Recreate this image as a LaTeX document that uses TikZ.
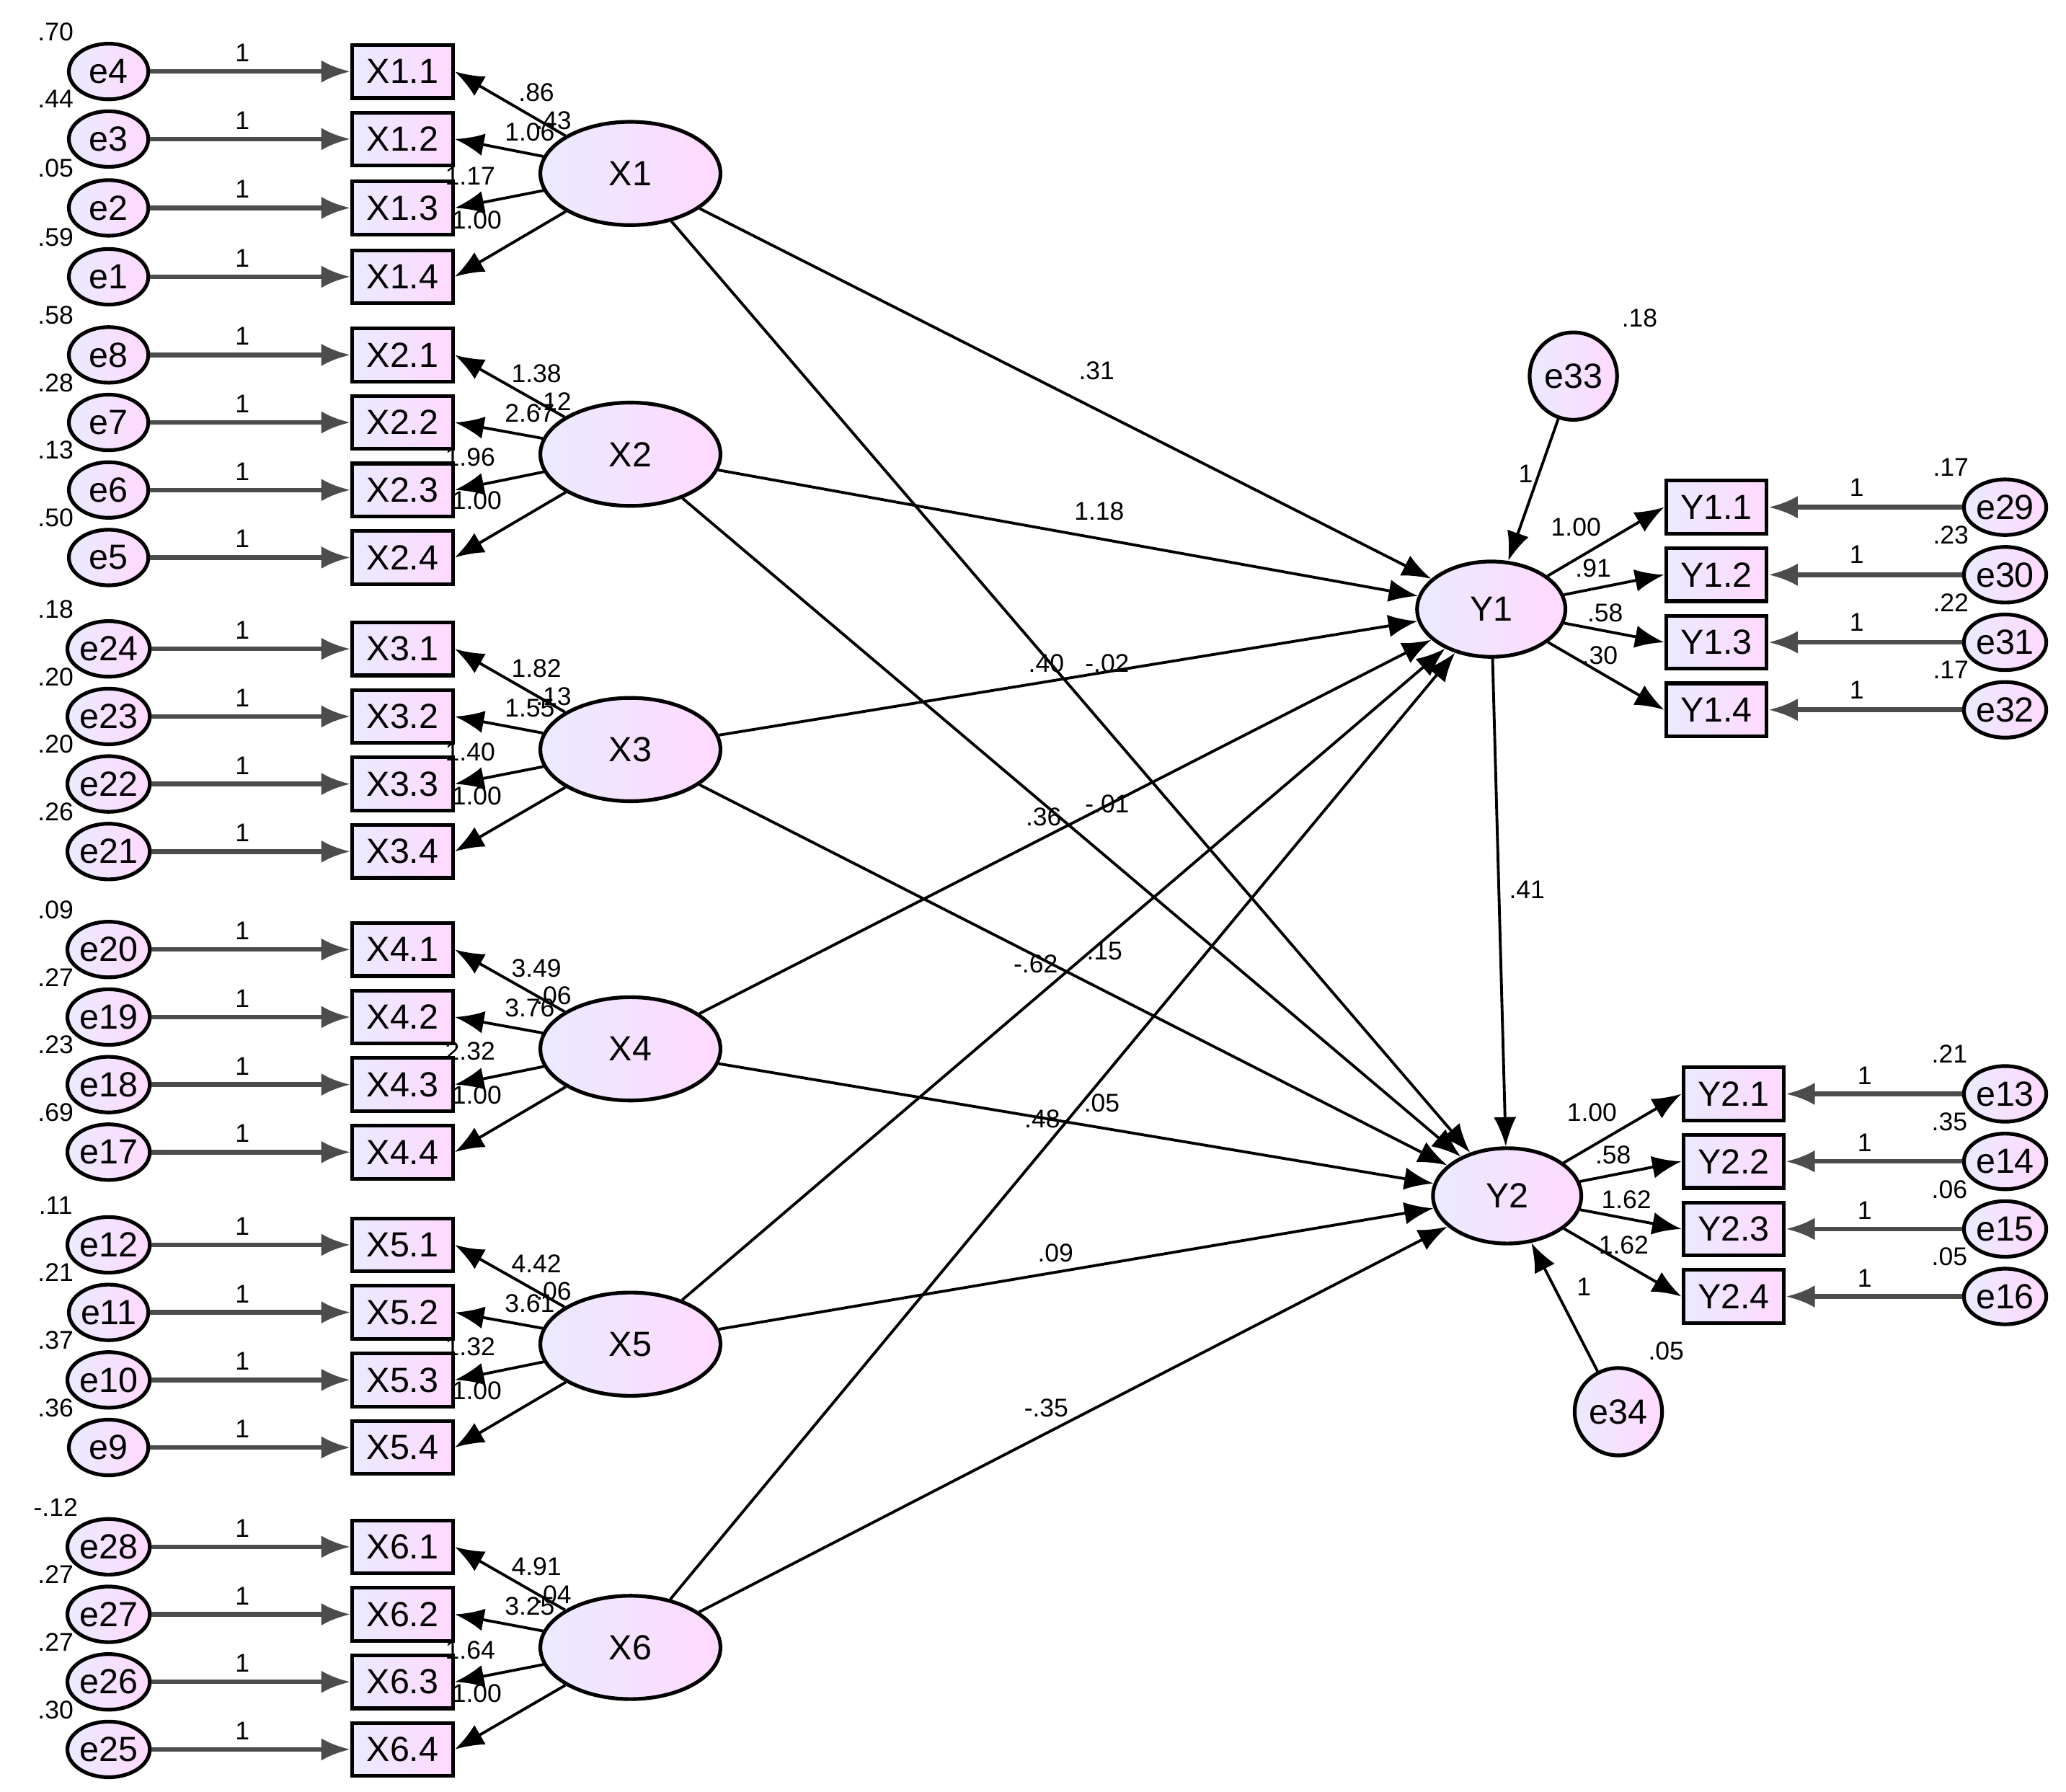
\documentclass[tikz,border=0pt]{standalone}
\usepackage{fontspec}
\setmainfont{Liberation Sans}
\usetikzlibrary{arrows.meta,shapes.geometric}
\begin{document}
\begin{tikzpicture}[x=0.1mm,y=-0.1mm,
 fl/.style={left color=blue!8!white, right color=magenta!15!white},
 err/.style={ellipse,draw,thick,fl,minimum width=6mm,minimum height=4.2mm,inner sep=0pt,font=\fontsize{7.5}{9}\selectfont},
 ob/.style={rectangle,draw,thick,fl,minimum width=7.6mm,minimum height=4mm,inner sep=0pt,font=\fontsize{7.5}{9}\selectfont},
 lat/.style={ellipse,draw,thick,fl,minimum width=13.6mm,minimum height=7.8mm,inner sep=0pt,font=\fontsize{7.5}{9}\selectfont},
 big/.style={circle,draw,thick,fl,minimum size=6.6mm,inner sep=0pt,font=\fontsize{7.5}{9}\selectfont},
 ar/.style={-{Latex[length=2.2mm,width=1.7mm]},semithick},
 gar/.style={-{Latex[length=2.2mm,width=1.7mm]},line width=1pt,black!70},
 lb/.style={font=\fontsize{5.5}{7}\selectfont,inner sep=0pt}]
\useasboundingbox (0,0) rectangle (1560,1353);
\foreach \g/\yc/\ya/\yb/\ycc/\yd/\ea/\eb/\ec/\ed/\va/\vb/\vc/\vd/\la/\lv/\lb/\lc in {
 1/131/54/105/157/209/e4/e3/e2/e1/.70/.44/.05/.59/.86/.43/1.06/1.17,
 2/343/268/319/370/421/e8/e7/e6/e5/.58/.28/.13/.50/1.38/.12/2.67/1.96,
 3/566/490/541/592/643/e24/e23/e22/e21/.18/.20/.20/.26/1.82/.13/1.55/1.40,
 4/792/717/768/819/870/e20/e19/e18/e17/.09/.27/.23/.69/3.49/.06/3.76/2.32,
 5/1015/940/991/1042/1093/e12/e11/e10/e9/.11/.21/.37/.36/4.42/.06/3.61/1.32,
 6/1244/1168/1219/1270/1321/e28/e27/e26/e25/-.12/.27/.27/.30/4.91/.04/3.25/1.64}{
 \node[lat] (X\g) at (476,\yc) {X\g};
 \foreach \i/\yy/\ee/\vv in {1/\ya/\ea/\va,2/\yb/\eb/\vb,3/\ycc/\ec/\vc,4/\yd/\ed/\vd}{
  \node[ob] (X\g\i) at (304,\yy) {X\g.\i};
  \node[err] (E\g\i) at (82,\yy) {\ee};
  \node[lb] at (42,\yy-30) {\vv};
  \node[lb] at (183,\yy-14) {1};
  \draw[gar] (E\g\i) -- (X\g\i);
  \draw[ar] (X\g) -- (X\g\i.east);
 }
 \node[lb] at (405,\yc-61) {\la};
 \node[lb] at (418,\yc-40) {\lv};
 \node[lb] at (400,\yc-31) {\lb};
 \node[lb] at (355,\yc+2) {\lc};
 \node[lb] at (360,\yc+35) {1.00};
}
\node[big,minimum width=11.2mm,minimum height=7.2mm,ellipse] (Y1) at (1126,460) {Y1};
\node[big,minimum width=11.2mm,minimum height=7.2mm,ellipse] (Y2) at (1138,903) {Y2};
\node[big] (e33) at (1188,284) {e33};
\node[big] (e34) at (1222,1066) {e34};
\node[lb] at (1238,240) {.18};
\node[lb] at (1152,358) {1};
\node[lb] at (1258,1020) {.05};
\node[lb] at (1196,972) {1};
\draw[ar] (e33) -- (Y1);
\draw[ar] (e34) -- (Y2);
\draw[ar] (Y1) -- (Y2);
\foreach \g in {1,...,6}{\draw[ar] (X\g) -- (Y1); \draw[ar] (X\g) -- (Y2);}
\foreach \i/\yy/\ee/\vv/\ll/\lx/\ly in {1/383/e29/.17/1.00/1190/398,2/434/e30/.23/.91/1203/429,3/485/e31/.22/.58/1212/463,4/536/e32/.17/.30/1208/495}{
 \node[ob] (Ya\i) at (1296,\yy) {Y1.\i};
 \node[err] (Ea\i) at (1514,\yy) {\ee};
 \node[lb] at (1473,\yy-30) {\vv};
 \node[lb] at (1402,\yy-15) {1};
 \node[lb] at (\lx,\ly) {\ll};
 \draw[gar] (Ea\i) -- (Ya\i);
 \draw[ar] (Y1) -- (Ya\i.west);
}
\foreach \i/\yy/\ee/\vv/\ll/\lx/\ly in {1/826/e13/.21/1.00/1202/840,2/877/e14/.35/.58/1218/872,3/928/e15/.06/1.62/1228/906,4/979/e16/.05/1.62/1226/940}{
 \node[ob] (Yb\i) at (1309,\yy) {Y2.\i};
 \node[err] (Eb\i) at (1514,\yy) {\ee};
 \node[lb] at (1472,\yy-30) {\vv};
 \node[lb] at (1408,\yy-14) {1};
 \node[lb] at (\lx,\ly) {\ll};
 \draw[gar] (Eb\i) -- (Yb\i);
 \draw[ar] (Y2) -- (Yb\i.west);
}
\foreach \t/\x/\y in {.31/828/280,1.18/830/386,.40/790/501,-.02/836/501,.36/788/617,-.01/836/607,-.62/782/728,.15/834/718,.48/787/845,.05/832/833,.09/797/946,-.35/790/1063,.41/1153/672}{
 \node[lb] at (\x,\y) {\t};}
\end{tikzpicture}
\end{document}
